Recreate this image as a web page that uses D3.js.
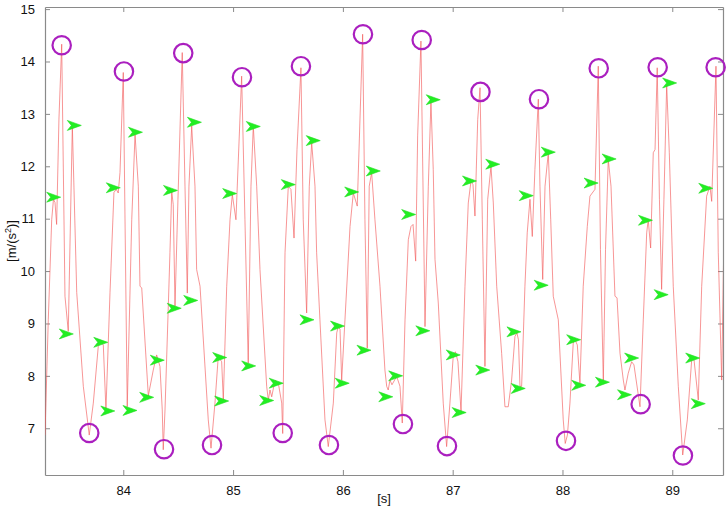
<!DOCTYPE html>
<html>
<head>
<meta charset="utf-8">
<script src="https://cdn.jsdelivr.net/npm/d3@7"></script>
<style>
  body { margin: 0; background: #fff; }
  text { font-family: "Liberation Sans", Arial, sans-serif; }
</style>
</head>
<body>
<div class="main"></div>
<script>
// signal samples: time [s] and acceleration [m/s^2]
var times = [83.287,83.317,83.348,83.364,83.378,83.393,83.414,83.439,83.469,83.499,83.536,83.576,83.636,83.690,83.727,83.772,83.792,83.818,83.842,83.879,
  83.915,83.936,83.954,83.970,84.000,84.036,84.077,84.107,84.137,84.152,84.168,84.228,84.273,84.304,84.334,84.355,84.364,84.380,84.410,84.425,
  84.441,84.455,84.471,84.498,84.537,84.562,84.583,84.598,84.623,84.653,84.668,84.699,84.774,84.799,84.835,84.865,84.896,84.911,84.942,84.972,
  84.993,85.026,85.078,85.108,85.138,85.163,85.184,85.215,85.245,85.306,85.321,85.336,85.352,85.382,85.412,85.443,85.452,85.473,85.503,85.527,
  85.555,85.582,85.618,85.639,85.670,85.694,85.716,85.746,85.761,85.791,85.837,85.867,85.913,85.944,85.958,85.974,85.989,86.019,86.065,86.095,
  86.131,86.180,86.201,86.222,86.240,86.262,86.292,86.338,86.383,86.399,86.413,86.429,86.447,86.490,86.520,86.541,86.566,86.596,86.620,86.639,
  86.663,86.681,86.711,86.748,86.778,86.802,86.823,86.839,86.869,86.914,86.945,86.975,87.005,87.025,87.048,87.076,87.112,87.142,87.167,87.185,
  87.203,87.228,87.249,87.270,87.294,87.319,87.349,87.370,87.401,87.446,87.476,87.506,87.537,87.567,87.585,87.599,87.613,87.628,87.658,87.679,
  87.704,87.725,87.749,87.780,87.795,87.820,87.841,87.871,87.893,87.916,87.962,88.007,88.025,88.045,88.068,88.098,88.114,88.135,88.159,88.189,
  88.226,88.250,88.296,88.326,88.346,88.372,88.392,88.417,88.442,88.478,88.497,88.524,88.554,88.569,88.599,88.630,88.651,88.706,88.736,88.767,
  88.781,88.803,88.827,88.843,88.863,88.883,88.903,88.924,88.949,88.973,89.009,89.055,89.095,89.137,89.177,89.198,89.237,89.268,89.313,89.343,
  89.359,89.398,89.419,89.450,89.471];
var accel = [6.87,9.07,10.98,11.37,11.31,10.89,12.90,14.33,9.52,8.85,12.77,9.59,7.80,6.87,7.48,8.56,8.65,8.59,7.35,9.59,
  11.50,11.56,11.49,11.88,13.79,7.41,10.98,12.61,11.62,9.71,9.68,7.62,8.11,8.40,8.18,7.35,6.59,7.35,9.33,10.35,
  11.52,11.27,9.33,11.37,14.17,11.62,9.58,11.62,12.77,11.62,10.03,9.71,7.16,6.62,7.48,8.37,8.27,7.54,9.71,10.98,
  11.46,10.98,13.72,10.98,8.24,11.62,12.77,11.62,10.03,7.80,7.54,7.73,7.60,7.92,7.86,7.48,6.90,10.35,11.62,11.56,
  10.63,12.32,13.88,10.98,9.20,11.62,12.45,11.62,10.35,9.07,7.16,6.65,7.48,8.82,8.94,8.89,7.92,9.07,10.85,11.49,
  11.24,14.52,10.98,8.53,11.62,11.88,10.98,9.71,8.11,7.80,7.73,7.92,7.83,7.99,7.80,7.10,9.07,10.60,10.85,10.89,
  10.19,12.58,14.39,8.94,11.62,13.24,11.94,10.22,9.39,7.48,6.65,7.48,8.37,8.46,8.27,7.32,9.71,11.30,11.72,11.65,
  11.05,12.89,13.50,10.98,8.18,11.37,12.00,11.30,9.71,8.43,7.41,7.41,7.92,8.75,8.82,8.69,7.80,7.80,9.71,10.73,
  11.37,10.66,11.94,13.28,11.62,9.84,11.62,12.26,10.98,9.52,9.07,7.16,6.71,6.87,7.48,8.63,8.69,8.59,7.86,9.71,
  10.85,11.43,11.56,13.91,10.41,7.89,10.41,12.13,11.62,9.52,9.49,8.43,7.92,7.73,8.05,8.27,8.21,7.41,9.07,10.73,
  10.98,10.44,12.26,12.32,13.88,11.37,9.65,11.37,13.56,12.26,9.71,7.80,6.49,7.16,8.31,8.31,7.54,9.71,11.43,11.62,
  11.33,13.91,10.35,7.92,10.73];

// circled extrema (peaks then valleys)
var circleT = [83.439,84.006,84.546,85.081,85.618,86.183,86.718,87.253,87.786,88.330,88.867,89.395,
  83.690,84.371,84.808,85.452,85.873,86.547,86.948,88.032,88.712,89.097];
var circleV = [14.31,13.81,14.16,13.70,13.91,14.52,14.41,13.42,13.28,13.87,13.89,13.89,
  6.91,6.60,6.68,6.91,6.68,7.08,6.66,6.76,7.46,6.48];

// green arrow markers
var arrowT = [83.366,83.481,83.554,83.795,83.859,83.909,84.061,84.111,84.213,84.310,84.430,84.464,84.614,84.648,84.878,84.896,84.969,
  85.142,85.184,85.306,85.393,85.503,85.673,85.730,85.951,85.994,86.080,86.192,86.277,86.391,86.481,86.599,86.728,86.823,87.005,
  87.059,87.153,87.274,87.365,87.558,87.597,87.670,87.806,87.871,88.102,88.148,88.261,88.364,88.425,88.565,88.630,88.756,88.899,
  88.976,89.186,89.237,89.305];
var arrowV = [11.41,8.80,12.78,8.64,7.33,11.59,7.34,12.65,7.59,8.30,11.54,9.29,9.44,12.84,8.35,7.52,11.48,
  8.19,12.76,7.53,7.86,11.65,9.07,12.49,8.95,7.86,11.51,8.49,11.91,7.60,8.00,11.08,8.86,13.27,8.40,
  7.30,11.72,8.11,12.04,8.84,7.76,11.44,9.73,12.27,8.69,7.82,11.68,7.88,12.14,7.64,8.34,10.97,9.55,
  13.59,8.34,7.47,11.58];

var xTicks = [84, 85, 86, 87, 88, 89];
var yTicks = [7, 8, 9, 10, 11, 12, 13, 14, 15];

// dimensions
var margin = {top: 7, right: 5, bottom: 34, left: 45},
    width  = 728 - margin.left - margin.right,
    height = 509 - margin.top - margin.bottom;

var canvas = d3.select('.main')
                .append('svg')
                    .attr('width', 728)
                    .attr('height', 509);
var svg = canvas.append('g').attr('transform', 'translate(' + margin.left + ',' + margin.top + ')');

// scales
var x = d3.scaleLinear().domain([83.287, 89.462]).range([0, width]);
var y = d3.scaleLinear().domain([6.108, 15.04]).range([height, 0]);

svg.append('clipPath').attr('id', 'clip')
    .append('rect').attr('width', width).attr('height', height);

// axes (box with inward ticks)
var axisColor = '#8a8a8a';
function styleAxis(g, showText) {
    g.select('.domain').attr('stroke', axisColor).attr('stroke-width', 1.2);
    g.selectAll('.tick line').attr('stroke', axisColor);
    g.selectAll('.tick text')
        .attr('fill', '#111')
        .attr('font-size', 13)
        .attr('font-family', '"Liberation Sans", Arial, sans-serif')
        .attr('opacity', showText ? 1 : 0);
}

svg.append('g')
    .attr('transform', 'translate(0,' + height + ')')
    .call(d3.axisBottom(x).tickValues(xTicks).tickFormat(d3.format('d')).tickSizeInner(-5).tickSizeOuter(0).tickPadding(11))
    .call(g => styleAxis(g, true));
svg.append('g')
    .call(d3.axisTop(x).tickValues(xTicks).tickSizeInner(-5).tickSizeOuter(0))
    .call(g => styleAxis(g, false));
svg.append('g')
    .call(d3.axisLeft(y).tickValues(yTicks).tickFormat(d3.format('d')).tickSizeInner(-5).tickSizeOuter(0).tickPadding(10))
    .call(g => styleAxis(g, true));
svg.append('g')
    .attr('transform', 'translate(' + width + ',0)')
    .call(d3.axisRight(y).tickValues(yTicks).tickSizeInner(-5).tickSizeOuter(0))
    .call(g => styleAxis(g, false));

// signal line
var line = d3.line()
    .x((d, i) => x(times[i]))
    .y((d, i) => y(accel[i]));

svg.append('path')
    .datum(accel)
    .attr('clip-path', 'url(#clip)')
    .attr('d', line)
    .attr('fill', 'none')
    .attr('stroke', '#f25c5c')
    .attr('stroke-width', 0.65);

// green arrowheads
svg.selectAll('.arrow')
    .data(arrowT)
    .enter().append('path')
        .attr('class', 'arrow')
        .attr('d', 'M7,0 L-7,-5 L-3,0 L-7,5 Z')
        .attr('transform', (d, i) => 'translate(' + x(d) + ',' + y(arrowV[i]) + ')')
        .attr('fill', '#22ee22')
        .attr('stroke', '#22dd22')
        .attr('stroke-width', 0.6);

// purple circles
svg.selectAll('.ring')
    .data(circleT)
    .enter().append('circle')
        .attr('class', 'ring')
        .attr('cx', d => x(d))
        .attr('cy', (d, i) => y(circleV[i]))
        .attr('r', 9.2)
        .attr('fill', 'none')
        .attr('stroke', '#aa1fbf')
        .attr('stroke-width', 2.2);

// axis labels
canvas.append('text')
    .attr('x', margin.left + width / 2)
    .attr('y', 503)
    .attr('text-anchor', 'middle')
    .attr('font-size', 13)
    .attr('fill', '#111')
    .text('[s]');

var ylab = canvas.append('text')
    .attr('transform', 'translate(16,' + (margin.top + height / 2) + ') rotate(-90)')
    .attr('text-anchor', 'middle')
    .attr('font-size', 13)
    .attr('fill', '#111');
ylab.append('tspan').text('[m/(s');
ylab.append('tspan').attr('font-size', 9).attr('dy', -5).text('2');
ylab.append('tspan').attr('dy', 5).text(')]');
</script>
</body>
</html>
